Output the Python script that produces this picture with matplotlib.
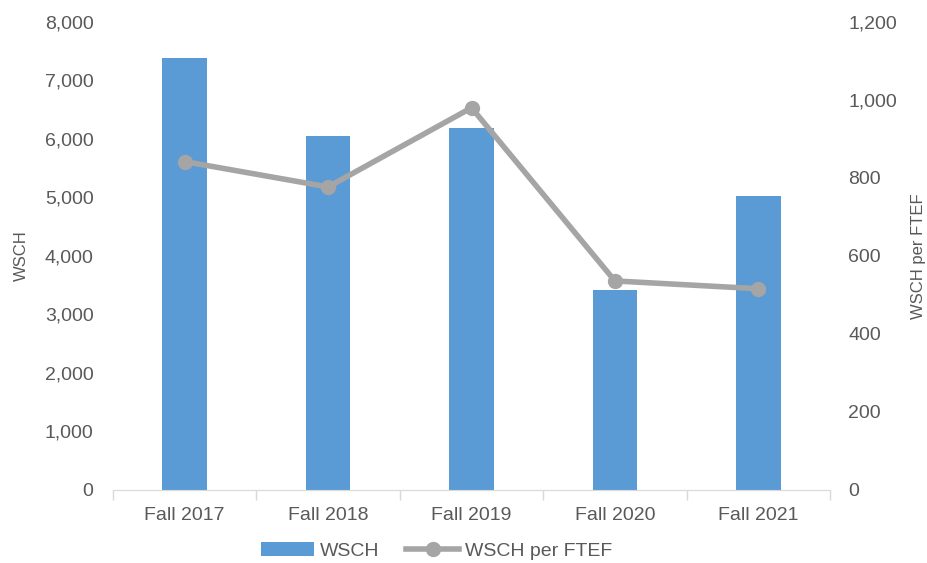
import matplotlib.pyplot as plt
import matplotlib.ticker as mtick
import numpy as np

terms = ["Fall 2017", "Fall 2018", "Fall 2019", "Fall 2020", "Fall 2021"]
wsch = [7390, 6050, 6190, 3420, 5030]
wsch_per_ftef = [842, 777, 980, 536, 516]

plt.rcParams['font.family'] = ['Liberation Sans', 'DejaVu Sans']
txt = "#595959"

fig = plt.figure(figsize=(9.27, 5.63), dpi=100)
ax = fig.add_axes([0.1219, 0.1297, 0.7735, 0.8313])
ax2 = ax.twinx()

x = np.arange(len(terms))
ax.bar(x, wsch, width=0.31, color="#5B9BD5", label="WSCH", zorder=2)
ax2.plot(x, wsch_per_ftef, color="#A5A5A5", lw=4, marker="o", ms=10,
         label="WSCH per FTEF", zorder=3)

ax.set_xlim(-0.5, len(terms) - 0.5)
ax.set_ylim(0, 8000)
ax2.set_ylim(0, 1200)
ax.yaxis.set_major_locator(mtick.MultipleLocator(1000))
ax2.yaxis.set_major_locator(mtick.MultipleLocator(200))
ax.yaxis.set_major_formatter(mtick.StrMethodFormatter("{x:,.0f}"))
ax2.yaxis.set_major_formatter(mtick.StrMethodFormatter("{x:,.0f}"))

ax.set_xticks(x)
ax.set_xticklabels(terms)
ax.set_xticks(np.arange(-0.5, len(terms)), minor=True)
ax.tick_params(axis="x", which="major", length=0, pad=12, labelsize=14, labelcolor=txt)
ax.tick_params(axis="x", which="minor", length=7, color="#D9D9D9", width=1)
ax.tick_params(axis="y", length=0, pad=14, labelsize=14, labelcolor=txt)
ax2.tick_params(axis="y", length=0, pad=13, labelsize=14, labelcolor=txt)

for a in (ax, ax2):
    for s in ("top", "left", "right"):
        a.spines[s].set_visible(False)
ax2.spines["bottom"].set_visible(False)
ax.spines["bottom"].set_color("#D9D9D9")

ax.set_ylabel("WSCH", color=txt, fontsize=12, labelpad=11)
ax2.set_ylabel("WSCH per FTEF", color=txt, fontsize=12, labelpad=10)

h1, l1 = ax.get_legend_handles_labels()
h2, l2 = ax2.get_legend_handles_labels()
fig.legend(h1 + h2, l1 + l2, loc="center", bbox_to_anchor=(0.471, 0.021),
           ncol=2, frameon=False, fontsize=14, labelcolor=txt,
           handlelength=2.7, columnspacing=1.4, handletextpad=0.3)

fig.savefig("out.png", dpi=100)
